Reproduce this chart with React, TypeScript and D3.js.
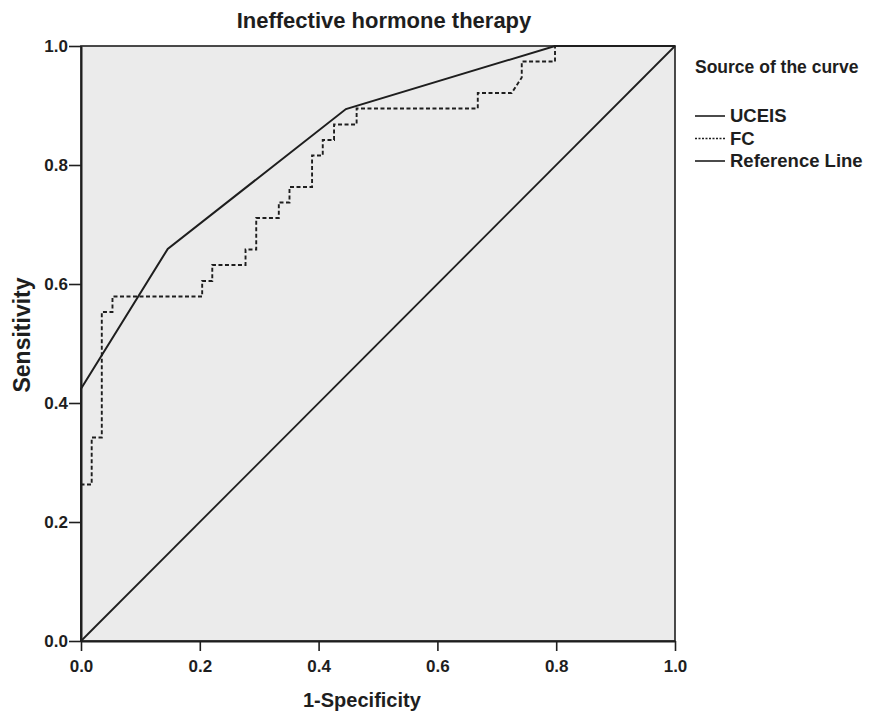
import * as d3 from "d3";
import { useEffect, useRef } from "react";

const chartTitle = "Ineffective hormone therapy";
const xTicks = [0, 0.2, 0.4, 0.6, 0.8, 1.0];
const yTicks = [0, 0.2, 0.4, 0.6, 0.8, 1.0];

// UCEIS ROC points (1-specificity, sensitivity)
const uceisX = [0, 0, 0.146, 0.446, 0.798, 1.0];
const uceisY = [0, 0.424, 0.659, 0.894, 1.0, 1.0];

// FC ROC step curve
const fcX = [0, 0, 0.018, 0.018, 0.035, 0.035, 0.053, 0.053, 0.204, 0.204, 0.221, 0.221, 0.277, 0.277, 0.295, 0.295, 0.333, 0.333, 0.351, 0.351, 0.389, 0.389, 0.407, 0.407, 0.426, 0.426, 0.464, 0.464, 0.668, 0.668, 0.725, 0.742, 0.742, 0.798, 0.798, 1.0];
const fcY = [0, 0.263, 0.263, 0.342, 0.342, 0.553, 0.553, 0.579, 0.579, 0.605, 0.605, 0.632, 0.632, 0.658, 0.658, 0.711, 0.711, 0.737, 0.737, 0.763, 0.763, 0.816, 0.816, 0.842, 0.842, 0.868, 0.868, 0.895, 0.895, 0.921, 0.921, 0.947, 0.974, 0.974, 1.0, 1.0];

const refX = [0, 1];
const refY = [0, 1];

const legendTitle = "Source of the curve";
const legendItems = [
  { name: "UCEIS", dash: null },
  { name: "FC", dash: "2,1.5" },
  { name: "Reference Line", dash: null },
];

function drawChart(svgElement) {
  const width = 871;
  const height = 716;
  const margin = { top: 46, right: 196, bottom: 75, left: 81 };
  const font = "'Liberation Sans', Arial, sans-serif";
  const ink = "#1e1e1e";
  const svg = d3.select(svgElement);
  svg.selectAll("*").remove();
  svg.attr("viewBox", `0 0 ${width} ${height}`).attr("width", width).attr("height", height);

  svg.append("rect").attr("width", width).attr("height", height).attr("fill", "#fff");

  const x = d3.scaleLinear().domain([0, 1]).range([margin.left, width - margin.right]);
  const y = d3.scaleLinear().domain([0, 1]).range([height - margin.bottom, margin.top]);

  svg
    .append("rect")
    .attr("x", x(0))
    .attr("y", y(1))
    .attr("width", x(1) - x(0))
    .attr("height", y(0) - y(1))
    .attr("fill", "#ebebeb")
    .attr("stroke", ink)
    .attr("stroke-width", 1.6);

  const line = d3
    .line()
    .x((d) => x(d[0]))
    .y((d) => y(d[1]));

  svg
    .append("path")
    .datum(d3.zip(refX, refY))
    .attr("d", line)
    .attr("fill", "none")
    .attr("stroke", ink)
    .attr("stroke-width", 1.8);

  svg
    .append("path")
    .datum(d3.zip(fcX, fcY))
    .attr("d", line)
    .attr("fill", "none")
    .attr("stroke", ink)
    .attr("stroke-width", 1.9)
    .attr("stroke-dasharray", "4,2.5");

  svg
    .append("path")
    .datum(d3.zip(uceisX, uceisY))
    .attr("d", line)
    .attr("fill", "none")
    .attr("stroke", ink)
    .attr("stroke-width", 2);

  const xAxis = svg
    .append("g")
    .attr("transform", `translate(0,${y(0)})`)
    .call(d3.axisBottom(x).tickValues(xTicks).tickFormat(d3.format(".1f")).tickSize(10).tickSizeOuter(0));
  const yAxis = svg
    .append("g")
    .attr("transform", `translate(${x(0)},0)`)
    .call(d3.axisLeft(y).tickValues(yTicks).tickFormat(d3.format(".1f")).tickSize(12).tickSizeOuter(0));

  [xAxis, yAxis].forEach((g) => {
    g.select(".domain").attr("stroke", ink).attr("stroke-width", 2);
    g.selectAll(".tick line").attr("stroke", ink).attr("stroke-width", 1.6);
    g.selectAll("text")
      .attr("font-family", font)
      .attr("font-size", 17)
      .attr("font-weight", "bold")
      .attr("fill", ink);
  });
  xAxis.selectAll("text").attr("y", 19);
  yAxis.selectAll("text").attr("x", -13);

  svg
    .append("text")
    .attr("x", 384)
    .attr("y", 28)
    .attr("text-anchor", "middle")
    .attr("font-family", font)
    .attr("font-size", 22)
    .attr("font-weight", "bold")
    .attr("fill", ink)
    .text(chartTitle);

  svg
    .append("text")
    .attr("x", 303)
    .attr("y", 707)
    .attr("font-family", font)
    .attr("font-size", 20)
    .attr("font-weight", "bold")
    .attr("fill", ink)
    .text("1-Specificity");

  svg
    .append("text")
    .attr("transform", `translate(30,335) rotate(-90)`)
    .attr("text-anchor", "middle")
    .attr("font-family", font)
    .attr("font-size", 23)
    .attr("font-weight", "bold")
    .attr("fill", ink)
    .text("Sensitivity");

  const legend = svg.append("g").attr("font-family", font).attr("font-weight", "bold").attr("fill", ink);
  legend
    .append("text")
    .attr("x", 695)
    .attr("y", 73)
    .attr("font-size", 17.5)
    .text(legendTitle);

  legendItems.forEach((item, i) => {
    const ly = 116 + i * 22.5;
    legend
      .append("line")
      .attr("x1", 695)
      .attr("x2", 725)
      .attr("y1", ly)
      .attr("y2", ly)
      .attr("stroke", ink)
      .attr("stroke-width", 1.6)
      .attr("stroke-dasharray", item.dash);
    legend
      .append("text")
      .attr("x", 730)
      .attr("y", ly + 6)
      .attr("font-size", 18.5)
      .text(item.name);
  });
}

export default function App() {
  const svgRef = useRef(null);

  useEffect(() => {
    drawChart(svgRef.current);
  }, []);

  return <svg ref={svgRef} style={{ position: "absolute", left: 0, top: 0 }} />;
}
